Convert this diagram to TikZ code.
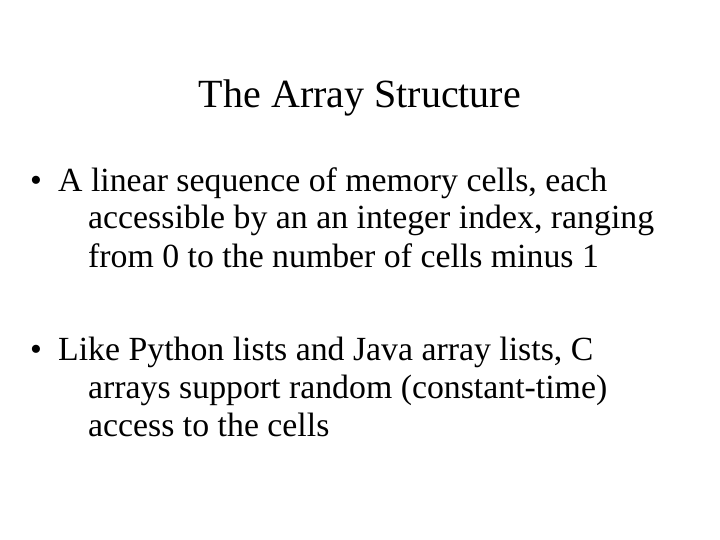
\documentclass[tikz,border=0pt]{standalone}
\usepackage{fontspec}
\setmainfont{Liberation Serif}
\begin{document}
\begin{tikzpicture}[x=1pt,y=-1pt,
  txt/.style={anchor=base west,inner sep=0pt,font=\fontsize{33.8}{40}\selectfont}]
\useasboundingbox[fill=white] (0,0) rectangle (720,540);
\node[anchor=base,inner sep=0pt,font=\fontsize{40}{46}\selectfont] (title) at (360,108) {The Array Structure};
\node[txt] (b1) at (30,192) {•};
\node[txt] (l1) at (58,192) {A linear sequence of memory cells, each};
\node[txt] (l2) at (88,229) {accessible by an an integer index, ranging};
\node[txt] (l3) at (88,267) {from 0 to the number of cells minus 1};
\node[txt] (b2) at (30,360) {•};
\node[txt] (m1) at (58,360) {Like Python lists and Java array lists, C};
\node[txt] (m2) at (88,398) {arrays support random (constant-time)};
\node[txt] (m3) at (88,436) {access to the cells};
\end{tikzpicture}
\end{document}
